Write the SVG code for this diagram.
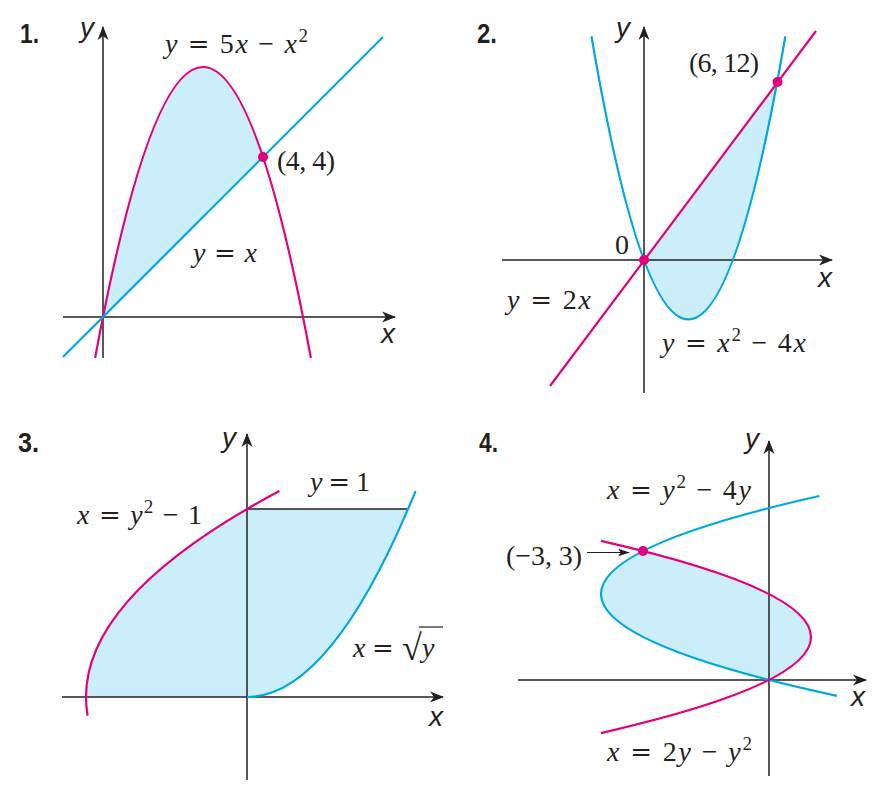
<svg xmlns="http://www.w3.org/2000/svg" width="888" height="789" viewBox="0 0 888 789">
<style>
.ax{fill:none;stroke:#231F20;stroke-width:1.5;marker-end:url(#ah)}
.pk{fill:none;stroke:#E4007C;stroke-width:2.2}
.bl{fill:none;stroke:#00A8E1;stroke-width:2.2}
.fl{fill:#CCEEFA;stroke:none}
.dot{fill:#E4007C}
.num{font-family:"Liberation Sans",Arial,sans-serif;font-weight:bold;font-size:28px;fill:#231F20}
.al{font-family:"Liberation Sans",Arial,sans-serif;font-style:italic;font-size:28px;fill:#231F20}
.m{font-family:"Liberation Serif","Times New Roman",serif;font-size:28px;fill:#231F20}
.i{font-style:italic}
.eq{font-family:"DejaVu Serif",serif;font-size:26px}
.sup{font-size:19px}
</style>
<defs>
<marker id="ah" viewBox="-14 -6 15 12" refX="0" refY="0" markerWidth="15" markerHeight="12" markerUnits="userSpaceOnUse" orient="auto">
<path d="M1,0 L-13,-5.5 L-9,0 L-13,5.5 Z" fill="#231F20"/>
</marker>
<marker id="ah2" viewBox="-14 -6 15 12" refX="0" refY="0" markerWidth="13" markerHeight="10" markerUnits="userSpaceOnUse" orient="auto">
<path d="M1,0 L-13,-4.5 L-10,0 L-13,4.5 Z" fill="#231F20"/>
</marker>
</defs>

<g id="panel1">
<path class="fl" d="M103,317 Q183,-83 263,157 Z"/>
<line class="ax" x1="103" y1="358" x2="103" y2="27"/>
<line class="ax" x1="63" y1="317" x2="395" y2="317"/>
<path class="pk" d="M95.1,358 Q203,-224 310.9,358"/>
<line class="bl" x1="63" y1="357" x2="383" y2="37"/>
<circle class="dot" cx="263" cy="157" r="5"/>
<text class="num" x="20" y="43" textLength="19" lengthAdjust="spacingAndGlyphs">1.</text>
<text class="al" x="80" y="37">y</text>
<text class="al" x="381" y="343">x</text>
<text class="m" x="165" y="53" textLength="143"><tspan class="i">y</tspan> <tspan class="eq">=</tspan> 5<tspan class="i">x</tspan> − <tspan class="i">x</tspan><tspan class="sup" dy="-11">2</tspan></text>
<text class="m" x="277" y="170" textLength="58">(4, 4)</text>
<text class="m" x="193" y="262" textLength="64"><tspan class="i">y</tspan> <tspan class="eq">=</tspan> <tspan class="i">x</tspan></text>
</g>

<g id="panel2">
<path class="fl" d="M644,260 Q710.6,438.2 777.2,81.8 Z"/>
<line class="ax" x1="644" y1="393" x2="644" y2="27"/>
<line class="ax" x1="502" y1="260" x2="832" y2="260"/>
<path class="bl" d="M591.45,36.2 Q688.4,602.6 785.35,36.2"/>
<line class="pk" x1="550" y1="386" x2="816" y2="31"/>
<circle class="dot" cx="644" cy="260" r="5"/>
<circle class="dot" cx="777.5" cy="82" r="5"/>
<text class="num" x="477" y="43" textLength="20" lengthAdjust="spacingAndGlyphs">2.</text>
<text class="al" x="616" y="37">y</text>
<text class="al" x="818" y="287">x</text>
<text class="m" x="689" y="72" textLength="70">(6, 12)</text>
<text class="m" x="615" y="254">0</text>
<text class="m" x="507" y="309" textLength="84"><tspan class="i">y</tspan> <tspan class="eq">=</tspan> 2<tspan class="i">x</tspan></text>
<text class="m" x="662" y="352" textLength="144"><tspan class="i">y</tspan> <tspan class="eq">=</tspan> <tspan class="i">x</tspan><tspan class="sup" dy="-11">2</tspan><tspan dy="11"> − 4</tspan><tspan class="i">x</tspan></text>
</g>

<g id="panel3">
<path class="fl" d="M86,697 Q86,603 247,509 L408,509 Q327.5,697 247,697 Z"/>
<line class="ax" x1="247" y1="780" x2="247" y2="434"/>
<line class="ax" x1="62" y1="697" x2="443" y2="697"/>
<line x1="247" y1="509" x2="408" y2="509" stroke="#231F20" stroke-width="1.5"/>
<path class="pk" d="M87.6,715.8 Q68.4,603.4 279.4,491"/>
<path class="bl" d="M247,697 Q331.3,697 415.6,491"/>
<text class="num" x="18" y="452" textLength="21" lengthAdjust="spacingAndGlyphs">3.</text>
<text class="al" x="222" y="447">y</text>
<text class="al" x="429" y="726">x</text>
<text class="m" x="310" y="491" textLength="60"><tspan class="i">y</tspan> <tspan class="eq">=</tspan> 1</text>
<text class="m" x="77" y="524" textLength="125"><tspan class="i">x</tspan> <tspan class="eq">=</tspan> <tspan class="i">y</tspan><tspan class="sup" dy="-11">2</tspan><tspan dy="11"> − 1</tspan></text>
<text class="m" x="353" y="657"><tspan class="i">x</tspan><tspan class="eq" x="372">=</tspan></text>
<text class="m" x="402" y="660" style="font-size:36px">√</text>
<text class="m i" x="422" y="657">y</text>
<line x1="419" y1="627" x2="443" y2="627" stroke="#231F20" stroke-width="1.2"/>
</g>

<g id="panel4">
<path class="fl" d="M769,680 Q895,615.5 643,551 Q517,615.5 769,680 Z"/>
<line class="ax" x1="769" y1="776" x2="769" y2="441"/>
<line class="ax" x1="518" y1="680" x2="866" y2="680"/>
<path class="bl" d="M837,695.9 Q374,595.9 819.4,496"/>
<path class="pk" d="M601,733.1 Q1021,637 601,540.9"/>
<circle class="dot" cx="643" cy="551" r="5"/>
<text class="num" x="479" y="452" textLength="19" lengthAdjust="spacingAndGlyphs">4.</text>
<text class="al" x="745" y="448">y</text>
<text class="al" x="851" y="706">x</text>
<text class="m" x="607" y="499" textLength="144"><tspan class="i">x</tspan> <tspan class="eq">=</tspan> <tspan class="i">y</tspan><tspan class="sup" dy="-11">2</tspan><tspan dy="11"> − 4</tspan><tspan class="i">y</tspan></text>
<text class="m" x="607" y="761" textLength="145"><tspan class="i">x</tspan> <tspan class="eq">=</tspan> 2<tspan class="i">y</tspan> − <tspan class="i">y</tspan><tspan class="sup" dy="-11">2</tspan></text>
<text class="m" x="506" y="565" textLength="76">(−3, 3)</text>
<line x1="587" y1="552.5" x2="629" y2="552.5" stroke="#231F20" stroke-width="1.2" marker-end="url(#ah2)"/>
</g>
</svg>
